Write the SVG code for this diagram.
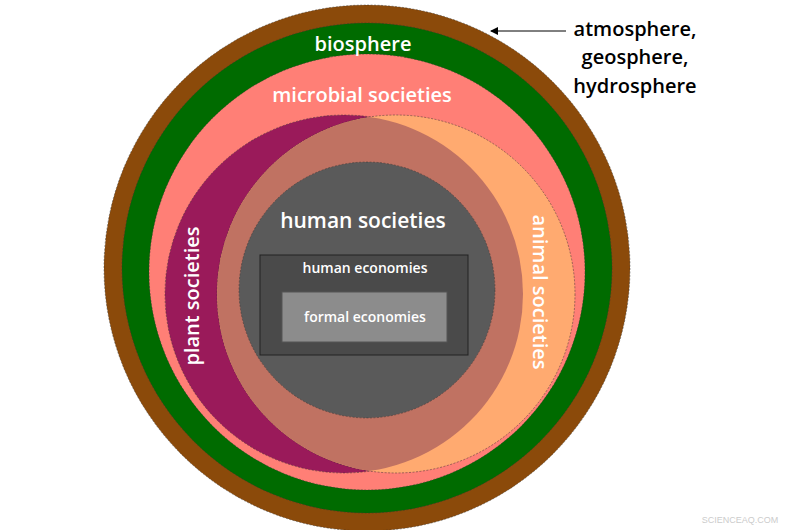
<svg xmlns="http://www.w3.org/2000/svg" width="800" height="530" viewBox="0 0 800 530">
<style>
.b{stroke:#333;stroke-width:0.8;stroke-dasharray:2 1.5;stroke-opacity:0.6}
.t{font-family:"Open Sans","DejaVu Sans",sans-serif;fill:#fff;font-weight:600}
</style>
<defs>
<clipPath id="cp"><circle cx="344" cy="294" r="179"/></clipPath>
<marker id="ah" markerWidth="8" markerHeight="8" refX="7" refY="4" orient="auto"><path d="M0,0 L8,4 L0,8 z" fill="#000"/></marker>
</defs>
<rect width="800" height="530" fill="#fff"/>
<g id="geo"><circle cx="367" cy="268" r="263" fill="#8b4a0a" class="b"/></g>
<g id="bio"><circle cx="367" cy="268" r="245" fill="#006b00" class="b"/></g>
<g id="microbial"><circle cx="367" cy="272" r="218" fill="#ff7f76" class="b"/></g>
<g id="plant"><circle cx="344" cy="294" r="179" fill="#9a1a5a" class="b"/></g>
<g id="animal"><circle cx="396" cy="294" r="179" fill="#ffaa70" class="b"/></g>
<g id="overlap"><circle cx="396" cy="294" r="179" fill="#c07262" clip-path="url(#cp)"/></g>
<g id="human"><circle cx="367" cy="290" r="128" fill="#5a5a5a" class="b"/></g>
<g id="econ"><rect x="260" y="255" width="208" height="100" fill="#4a4a4a" stroke="#222" stroke-width="1"/></g>
<g id="formal"><rect x="282" y="292" width="165" height="50" fill="#8c8c8c" stroke="#555" stroke-width="1"/></g>
<g id="connectors"><line x1="566" y1="31" x2="491" y2="31" stroke="#000" stroke-width="1" marker-end="url(#ah)"/></g>
<text class="t" x="363" y="51" font-size="20" text-anchor="middle">biosphere</text>
<text class="t" x="362" y="102" font-size="20" text-anchor="middle">microbial societies</text>
<text class="t" x="363" y="228" font-size="21" text-anchor="middle">human societies</text>
<text class="t" x="365" y="273" font-size="14" font-weight="400" text-anchor="middle">human economies</text>
<text class="t" x="365" y="322" font-size="14" font-weight="400" text-anchor="middle">formal economies</text>
<text class="t" transform="translate(199,296) rotate(-90)" font-size="20" text-anchor="middle">plant societies</text>
<text class="t" transform="translate(533,292) rotate(90)" font-size="20" text-anchor="middle">animal societies</text>
<g font-family="'Open Sans','DejaVu Sans',sans-serif" font-size="20" font-weight="600" fill="#000" text-anchor="middle">
<text x="635" y="36">atmosphere,</text><text x="635" y="64">geosphere,</text><text x="635" y="93">hydrosphere</text></g>
<text x="740" y="523" font-family="Liberation Sans,sans-serif" font-size="9" fill="#ccc" text-anchor="middle">SCIENCEAQ.COM</text>
</svg>
